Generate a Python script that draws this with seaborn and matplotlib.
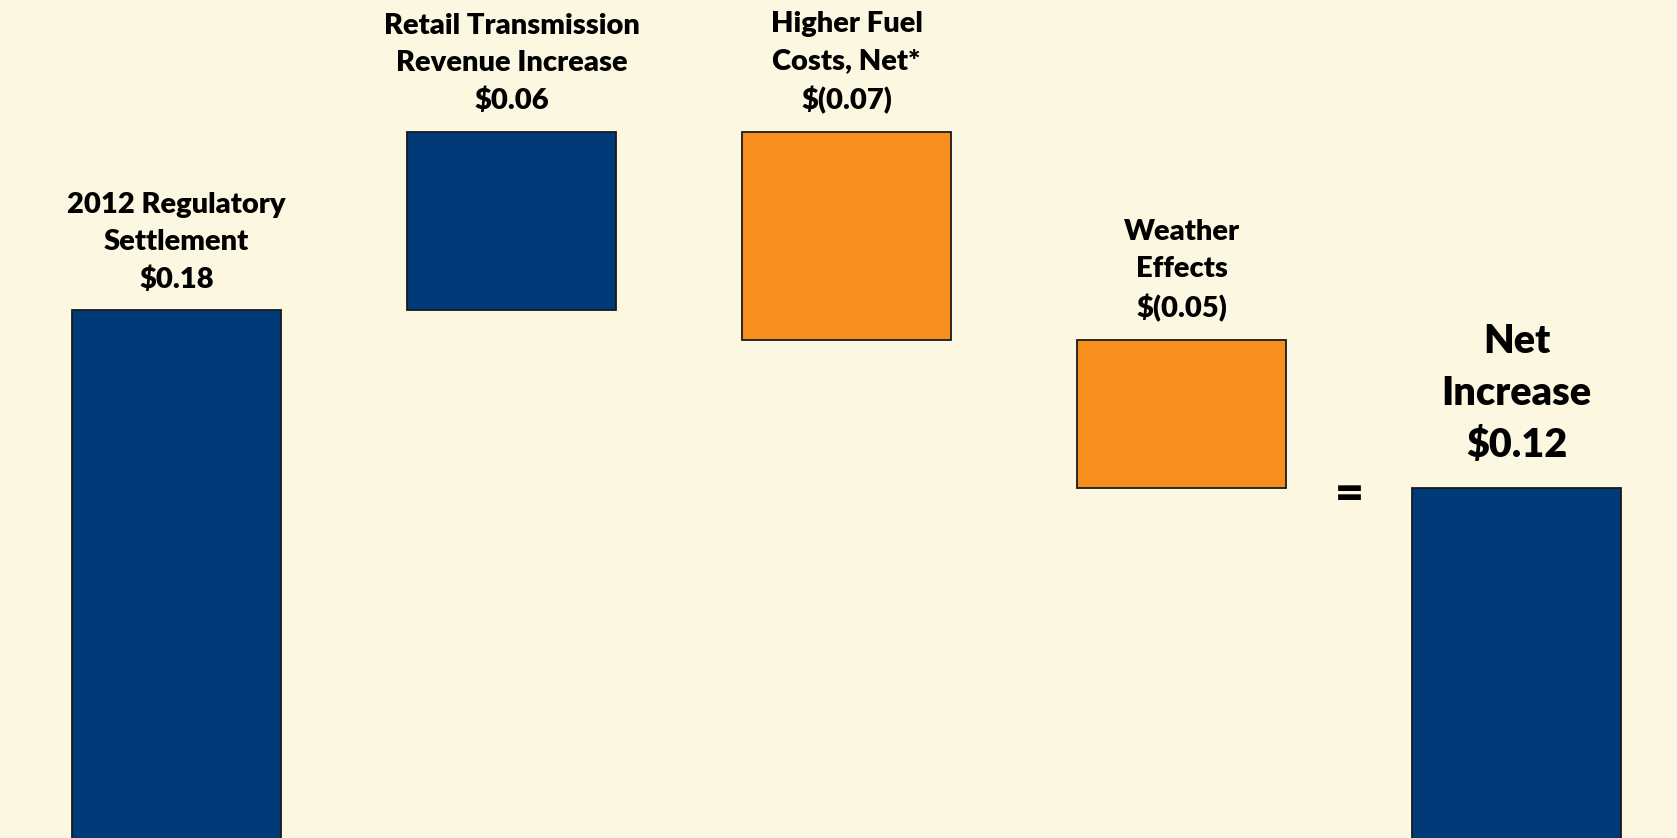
import matplotlib
matplotlib.use("Agg")
import matplotlib.pyplot as plt
import seaborn as sns
import pandas as pd

categories = ["2012 Regulatory\nSettlement", "Retail Transmission\nRevenue Increase",
              "Higher Fuel\nCosts, Net*", "Weather\nEffects", "Net\nIncrease"]
changes = [0.18, 0.06, -0.07, -0.05, 0.12]
value_labels = ["$0.18", "$0.06", "$(0.07)", "$(0.05)", "$0.12"]
kinds = ["total", "delta", "delta", "delta", "total"]

NAVY = "#003A78"
ORANGE = "#F78F1E"
BG = "#FCF7E0"

# waterfall bottoms / heights
bottoms, heights = [], []
running = 0.0
for c, k in zip(changes, kinds):
    if k == "total":
        bottoms.append(0.0)
        heights.append(c)
        running = c
    else:
        if c >= 0:
            bottoms.append(running)
            heights.append(c)
        else:
            bottoms.append(running + c)
            heights.append(-c)
        running += c
colors = [NAVY if c >= 0 else ORANGE for c in changes]

df = pd.DataFrame({"cat": categories, "h": heights})

sns.set_theme(style="white")
plt.rcParams["font.family"] = ["Lato", "DejaVu Sans"]

fig = plt.figure(figsize=(16.77, 8.38), dpi=100, facecolor=BG)
ax = fig.add_axes([0, 0, 1, 1])
ax.set_facecolor(BG)

sns.barplot(data=df, x="cat", y="h", hue="cat", palette=colors, legend=False,
            width=0.626, edgecolor="#1a1a1a", linewidth=1.3, ax=ax, saturation=1)

for p, b in zip(ax.patches, bottoms):
    p.set_y(b)

ax.set_xlim(-0.527, 4.479)
ax.set_ylim(0.0024, 0.2843)
ax.axis("off")

for i, (cat, vl, b, h) in enumerate(zip(categories, value_labels, bottoms, heights)):
    top = b + h
    if i == 4:
        ax.annotate(cat + "\n" + vl, xy=(i, top), xytext=(0, 17.5), textcoords="offset points",
                    ha="center", va="bottom", fontsize=28.5, fontweight="heavy",
                    linespacing=1.5, color="black")
    else:
        ax.annotate(cat + "\n" + vl, xy=(i, top), xytext=(0, 12.5), textcoords="offset points",
                    ha="center", va="bottom", fontsize=21, fontweight="heavy",
                    linespacing=1.53, color="black")

ax.text(3.5, bottoms[3] - 0.002, "=", ha="center", va="center", fontsize=36,
        fontweight="heavy", color="black")

fig.savefig("out.png", dpi=100, facecolor=BG)
